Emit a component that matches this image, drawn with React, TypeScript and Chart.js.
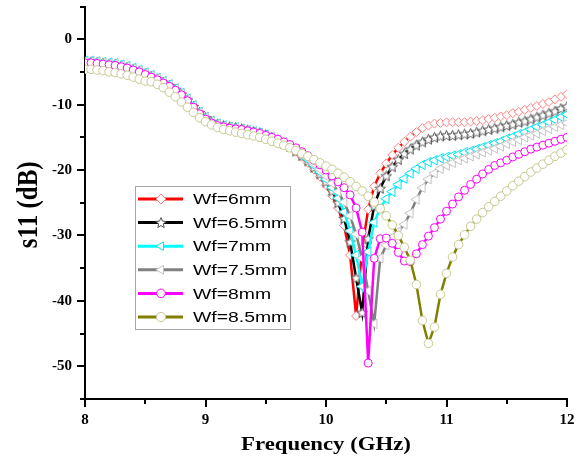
import React, { useEffect, useRef } from 'react';
import { Chart, registerables } from 'chart.js';

Chart.register(...registerables);

const FREQ_GHZ = [
  8.0, 8.05, 8.1, 8.15, 8.2, 8.25, 8.3, 8.35, 8.4, 8.45,
  8.5, 8.55, 8.6, 8.65, 8.7, 8.75, 8.8, 8.85, 8.9, 8.95,
  9.0, 9.05, 9.1, 9.15, 9.2, 9.25, 9.3, 9.35, 9.4, 9.45,
  9.5, 9.55, 9.6, 9.65, 9.7, 9.75, 9.8, 9.85, 9.9, 9.95,
  10.0, 10.05, 10.1, 10.15, 10.2, 10.25, 10.3, 10.35, 10.4, 10.45,
  10.5, 10.55, 10.6, 10.65, 10.7, 10.75, 10.8, 10.85, 10.9, 10.95,
  11.0, 11.05, 11.1, 11.15, 11.2, 11.25, 11.3, 11.35, 11.4, 11.45,
  11.5, 11.55, 11.6, 11.65, 11.7, 11.75, 11.8, 11.85, 11.9, 11.95,
  12.0,
];

const S11_WF6 = [
  -3.4, -3.4, -3.5, -3.6, -3.7, -3.8, -4.0, -4.2, -4.5, -4.8,
  -5.2, -5.6, -6.0, -6.5, -7.0, -7.6, -8.3, -9.2, -10.2, -11.2,
  -12.0, -12.6, -13.0, -13.2, -13.4, -13.5, -13.7, -13.9, -14.1, -14.3,
  -14.6, -15.0, -15.4, -15.9, -16.5, -17.2, -18.0, -18.9, -19.9, -21.0,
  -22.3, -23.9, -25.8, -28.5, -33.0, -42.3, -32.0, -26.0, -22.5, -20.5,
  -19.0, -17.7, -16.6, -15.7, -14.9, -14.2, -13.6, -13.2, -12.9, -12.8,
  -12.7, -12.7, -12.7, -12.7, -12.6, -12.5, -12.4, -12.2, -12.0, -11.8,
  -11.6, -11.3, -11.1, -10.8, -10.5, -10.2, -9.9, -9.6, -9.2, -8.8,
  -8.4,
];

const S11_WF65 = [
  -3.5, -3.5, -3.6, -3.7, -3.8, -3.9, -4.1, -4.3, -4.6, -4.9,
  -5.3, -5.7, -6.1, -6.6, -7.1, -7.7, -8.4, -9.3, -10.3, -11.2,
  -12.0, -12.6, -13.0, -13.2, -13.4, -13.5, -13.7, -13.9, -14.1, -14.3,
  -14.6, -15.0, -15.4, -15.9, -16.4, -17.1, -17.8, -18.6, -19.6, -20.6,
  -21.8, -23.2, -25.0, -27.4, -31.0, -36.5, -41.8, -30.5, -25.5, -22.8,
  -20.9, -19.5, -18.4, -17.5, -16.8, -16.2, -15.7, -15.3, -15.0, -14.8,
  -14.7, -14.7, -14.6, -14.5, -14.4, -14.2, -14.0, -13.8, -13.6, -13.4,
  -13.2, -13.0, -12.7, -12.5, -12.2, -11.9, -11.6, -11.3, -11.0, -10.6,
  -10.3,
];

const S11_WF7 = [
  -3.3, -3.3, -3.4, -3.5, -3.6, -3.7, -3.9, -4.1, -4.4, -4.7,
  -5.1, -5.5, -5.9, -6.4, -6.9, -7.5, -8.2, -9.1, -10.1, -11.1,
  -11.9, -12.5, -12.9, -13.2, -13.4, -13.5, -13.7, -13.9, -14.1, -14.3,
  -14.6, -15.0, -15.4, -15.8, -16.3, -16.9, -17.6, -18.4, -19.3, -20.3,
  -21.4, -22.7, -24.3, -26.4, -29.3, -33.0, -37.8, -32.5, -28.0, -25.8,
  -24.4, -23.3, -22.2, -21.3, -20.5, -19.8, -19.2, -18.8, -18.5, -18.2,
  -18.0, -17.8, -17.6, -17.3, -17.1, -16.8, -16.5, -16.2, -15.9, -15.6,
  -15.2, -14.9, -14.5, -14.2, -13.8, -13.4, -13.1, -12.7, -12.3, -11.9,
  -11.5,
];

const S11_WF75 = [
  -3.4, -3.4, -3.5, -3.6, -3.7, -3.8, -4.0, -4.2, -4.5, -4.8,
  -5.2, -5.6, -6.0, -6.5, -7.0, -7.6, -8.3, -9.2, -10.2, -11.2,
  -12.0, -12.6, -13.0, -13.3, -13.5, -13.6, -13.8, -14.0, -14.2, -14.4,
  -14.7, -15.0, -15.4, -15.8, -16.3, -16.9, -17.5, -18.2, -19.0, -19.9,
  -20.9, -22.0, -23.3, -24.9, -27.0, -29.8, -33.5, -38.5, -43.5, -33.5,
  -31.5, -30.3, -29.4, -28.3, -26.6, -24.5, -22.7, -21.4, -20.5, -19.8,
  -19.3, -18.9, -18.5, -18.2, -17.9, -17.6, -17.3, -17.0, -16.7, -16.4,
  -16.0, -15.7, -15.4, -15.0, -14.7, -14.4, -14.0, -13.7, -13.4, -13.1,
  -12.8,
];

const S11_WF8 = [
  -3.6, -3.6, -3.7, -3.8, -3.9, -4.0, -4.2, -4.4, -4.7, -5.0,
  -5.4, -5.8, -6.2, -6.7, -7.2, -7.8, -8.5, -9.4, -10.4, -11.4,
  -12.2, -12.8, -13.2, -13.4, -13.6, -13.7, -13.8, -14.0, -14.2, -14.4,
  -14.7, -15.0, -15.3, -15.7, -16.1, -16.6, -17.2, -17.8, -18.5, -19.2,
  -20.0, -20.9, -21.8, -22.7, -23.8, -25.8, -29.5, -49.5, -33.5, -30.5,
  -30.4, -31.2, -32.6, -33.9, -34.0, -32.8, -31.4, -30.1, -28.8, -27.5,
  -26.3, -25.2, -24.1, -23.1, -22.2, -21.4, -20.6, -19.9, -19.3, -18.9,
  -18.5, -18.0, -17.6, -17.2, -16.8, -16.5, -16.2, -15.9, -15.6, -15.3,
  -15.0,
];

const S11_WF85 = [
  -4.6, -4.6, -4.7, -4.8, -5.0, -5.1, -5.3, -5.5, -5.8, -6.1,
  -6.4, -6.5, -6.9, -7.4, -8.1, -8.8, -9.6, -10.4, -11.2, -12.0,
  -12.6, -13.1, -13.5, -13.8, -14.0, -14.2, -14.4, -14.6, -14.8, -15.0,
  -15.3, -15.6, -15.9, -16.2, -16.6, -17.0, -17.5, -17.9, -18.4, -18.9,
  -19.4, -19.9, -20.5, -21.1, -21.8, -22.5, -23.2, -24.0, -24.9, -25.9,
  -27.0, -28.4, -30.0, -31.8, -33.8, -37.5, -43.0, -46.5, -44.0, -39.0,
  -35.8, -33.3, -31.4, -29.9, -28.6, -27.5, -26.5, -25.6, -24.8, -24.0,
  -23.2, -22.4, -21.7, -21.0, -20.3, -19.7, -19.1, -18.5, -17.9, -17.4,
  -16.9,
];

const SERIES_LABELS = ['Wf=6mm', 'Wf=6.5mm', 'Wf=7mm', 'Wf=7.5mm', 'Wf=8mm', 'Wf=8.5mm'];
const SERIES_VALUES = [S11_WF6, S11_WF65, S11_WF7, S11_WF75, S11_WF8, S11_WF85];
const X_TITLE = 'Frequency (GHz)';
const Y_TITLE = 's11 (dB)';

type Shape = 'diamond' | 'star' | 'triLeft' | 'circle';
const STYLES: { line: string; mark: string; shape: Shape; radius: number }[] = [
  { line: '#ff0000', mark: '#ff8080', shape: 'diamond', radius: 4.5 },
  { line: '#000000', mark: '#555555', shape: 'star', radius: 5 },
  { line: '#00ffff', mark: '#00e6f0', shape: 'triLeft', radius: 5.5 },
  { line: '#808080', mark: '#c4c4c4', shape: 'triLeft', radius: 5.5 },
  { line: '#ff00ff', mark: '#ff00ff', shape: 'circle', radius: 4 },
  { line: '#808000', mark: '#c8c890', shape: 'circle', radius: 4.3 },
];

function starPath(g: CanvasRenderingContext2D, cx: number, cy: number, R: number) {
  g.beginPath();
  for (let i = 0; i < 10; i++) {
    const r = i % 2 === 0 ? R : R * 0.45;
    const a = -Math.PI / 2 + (i * Math.PI) / 5;
    const px = cx + r * Math.cos(a);
    const py = cy + r * Math.sin(a);
    if (i === 0) g.moveTo(px, py);
    else g.lineTo(px, py);
  }
  g.closePath();
}

function makeStarImage(stroke: string) {
  const c = document.createElement('canvas');
  c.width = 13;
  c.height = 13;
  const g = c.getContext('2d')!;
  starPath(g, 6.5, 7, 5.5);
  g.fillStyle = '#ffffff';
  g.fill();
  g.strokeStyle = stroke;
  g.lineWidth = 1;
  g.stroke();
  return c;
}

function drawMarker(ctx: CanvasRenderingContext2D, shape: Shape, x: number, y: number, r: number, stroke: string) {
  ctx.save();
  ctx.fillStyle = '#ffffff';
  ctx.strokeStyle = stroke;
  ctx.lineWidth = 1;
  if (shape === 'star') {
    starPath(ctx, x, y + 0.5, 5.5);
  } else {
    ctx.beginPath();
    if (shape === 'diamond') {
      ctx.moveTo(x, y - r - 0.5);
      ctx.lineTo(x + r + 0.5, y);
      ctx.lineTo(x, y + r + 0.5);
      ctx.lineTo(x - r - 0.5, y);
      ctx.closePath();
    } else if (shape === 'triLeft') {
      ctx.moveTo(x - r, y);
      ctx.lineTo(x + r * 0.5, y - r * 0.87);
      ctx.lineTo(x + r * 0.5, y + r * 0.87);
      ctx.closePath();
    } else {
      ctx.arc(x, y, r + 0.3, 0, Math.PI * 2);
    }
  }
  ctx.fill();
  ctx.stroke();
  ctx.restore();
}

const decorPlugin = {
  id: 'decor',
  afterDraw(chart: any) {
    const { ctx, chartArea } = chart;
    const xs = chart.scales.x;
    const ys = chart.scales.y;
    ctx.save();
    // tick marks (major longer, minor shorter)
    ctx.strokeStyle = '#000000';
    ctx.lineWidth = 2;
    xs.ticks.forEach((t: any) => {
      const px = Math.round(xs.getPixelForValue(t.value));
      const len = t.label ? 8 : 5;
      ctx.beginPath();
      ctx.moveTo(px, chartArea.bottom);
      ctx.lineTo(px, chartArea.bottom + len);
      ctx.stroke();
    });
    ys.ticks.forEach((t: any) => {
      const py = Math.round(ys.getPixelForValue(t.value));
      const len = t.label ? 8 : 5;
      ctx.beginPath();
      ctx.moveTo(chartArea.left, py);
      ctx.lineTo(chartArea.left - len, py);
      ctx.stroke();
    });

    // axis titles
    ctx.fillStyle = '#000000';
    ctx.textAlign = 'center';
    ctx.textBaseline = 'middle';
    ctx.save();
    ctx.translate((chartArea.left + chartArea.right) / 2, 445);
    ctx.scale(1.2, 1);
    ctx.font = 'bold 19px "Liberation Serif", "Times New Roman", serif';
    ctx.fillText(X_TITLE, 0, 0);
    ctx.restore();
    ctx.save();
    ctx.translate(29, (chartArea.top + chartArea.bottom) / 2 + 2);
    ctx.rotate(-Math.PI / 2);
    ctx.scale(1, 1.2);
    ctx.font = 'bold 25px "Liberation Serif", "Times New Roman", serif';
    ctx.fillText(Y_TITLE, 0, 0);
    ctx.restore();

    // legend box
    const bx = 135.5, by = 186.5, bw = 155, bh = 143;
    ctx.fillStyle = '#ffffff';
    ctx.fillRect(bx, by, bw, bh);
    ctx.strokeStyle = '#a8a8a8';
    ctx.lineWidth = 1;
    ctx.strokeRect(bx, by, bw, bh);
    SERIES_LABELS.forEach((label, i) => {
      const st = STYLES[i];
      const ry = 199 + i * 23.6;
      ctx.strokeStyle = st.line;
      ctx.lineWidth = 3;
      ctx.beginPath();
      ctx.moveTo(138, ry);
      ctx.lineTo(183, ry);
      ctx.stroke();
      drawMarker(ctx, st.shape, 161, ry, Math.min(st.radius, 5), st.mark);
      ctx.save();
      ctx.translate(193, ry + 1);
      ctx.scale(1.25, 1);
      ctx.fillStyle = '#000000';
      ctx.textAlign = 'left';
      ctx.textBaseline = 'middle';
      ctx.font = '15.5px "Liberation Sans", Arial, sans-serif';
      ctx.fillText(label, 0, 0);
      ctx.restore();
    });
    ctx.restore();
  },
};

export default function App() {
  const ref = useRef<HTMLCanvasElement>(null);

  useEffect(() => {
    const starImg = makeStarImage(STYLES[1].mark);
    const datasets = SERIES_LABELS.map((label, i) => {
      const st = STYLES[i];
      const pointStyle =
        st.shape === 'diamond' ? 'rectRot' : st.shape === 'star' ? starImg : st.shape === 'triLeft' ? 'triangle' : 'circle';
      return {
        label,
        data: SERIES_VALUES[i].map((v, k) => ({ x: FREQ_GHZ[k], y: v })),
        borderColor: st.line,
        borderWidth: 2.5,
        pointStyle,
        pointRadius: st.radius,
        pointRotation: st.shape === 'triLeft' ? -90 : 0,
        pointBorderColor: st.mark,
        pointBackgroundColor: '#ffffff',
        pointBorderWidth: 1,
        tension: 0,
        fill: false,
        order: SERIES_LABELS.length - 1 - i,
      };
    });

    const tickFont = { family: '"Liberation Serif", "Times New Roman", serif', weight: 'bold' as const, size: 15 };

    const chart = new Chart(ref.current!, {
      type: 'line',
      data: { datasets: datasets as any },
      options: {
        responsive: false,
        animation: false,
        devicePixelRatio: 1,
        layout: { padding: { left: 0, top: 5, right: 14, bottom: 0 } },
        plugins: { legend: { display: false }, tooltip: { enabled: false } },
        scales: {
          x: {
            type: 'linear',
            min: 8,
            max: 12,
            ticks: {
              stepSize: 0.5,
              autoSkip: false,
              maxRotation: 0,
              color: '#000000',
              padding: 4,
              font: tickFont,
              callback: (v: any) => (Number.isInteger(Number(v)) ? String(v) : ''),
            },
            grid: {
              display: true,
              drawOnChartArea: false,
              drawTicks: true,
              tickLength: 8,
              color: 'rgba(0,0,0,0)',
              tickColor: 'rgba(0,0,0,0)',
            },
            border: { display: true, color: '#000000', width: 2 },
            afterFit: (s: any) => {
              s.height = 62;
              s.paddingLeft = 0;
              s.paddingRight = 0;
            },
          },
          y: {
            type: 'linear',
            min: -55,
            max: 5,
            ticks: {
              stepSize: 5,
              autoSkip: false,
              color: '#000000',
              padding: 5,
              font: tickFont,
              callback: (v: any) => (Number(v) % 10 === 0 ? String(v) : ''),
            },
            grid: {
              display: true,
              drawOnChartArea: false,
              drawTicks: true,
              tickLength: 8,
              color: 'rgba(0,0,0,0)',
              tickColor: 'rgba(0,0,0,0)',
            },
            border: { display: true, color: '#000000', width: 2 },
            afterFit: (s: any) => {
              s.width = 85;
              s.paddingTop = 0;
              s.paddingBottom = 0;
            },
          },
        },
      },
      plugins: [decorPlugin],
    });
    return () => chart.destroy();
  }, []);

  return (
    <div style={{ position: 'absolute', left: 0, top: 0, width: 581, height: 461, background: '#ffffff' }}>
      <canvas ref={ref} width={581} height={461} style={{ width: 581, height: 461, display: 'block' }} />
    </div>
  );
}
